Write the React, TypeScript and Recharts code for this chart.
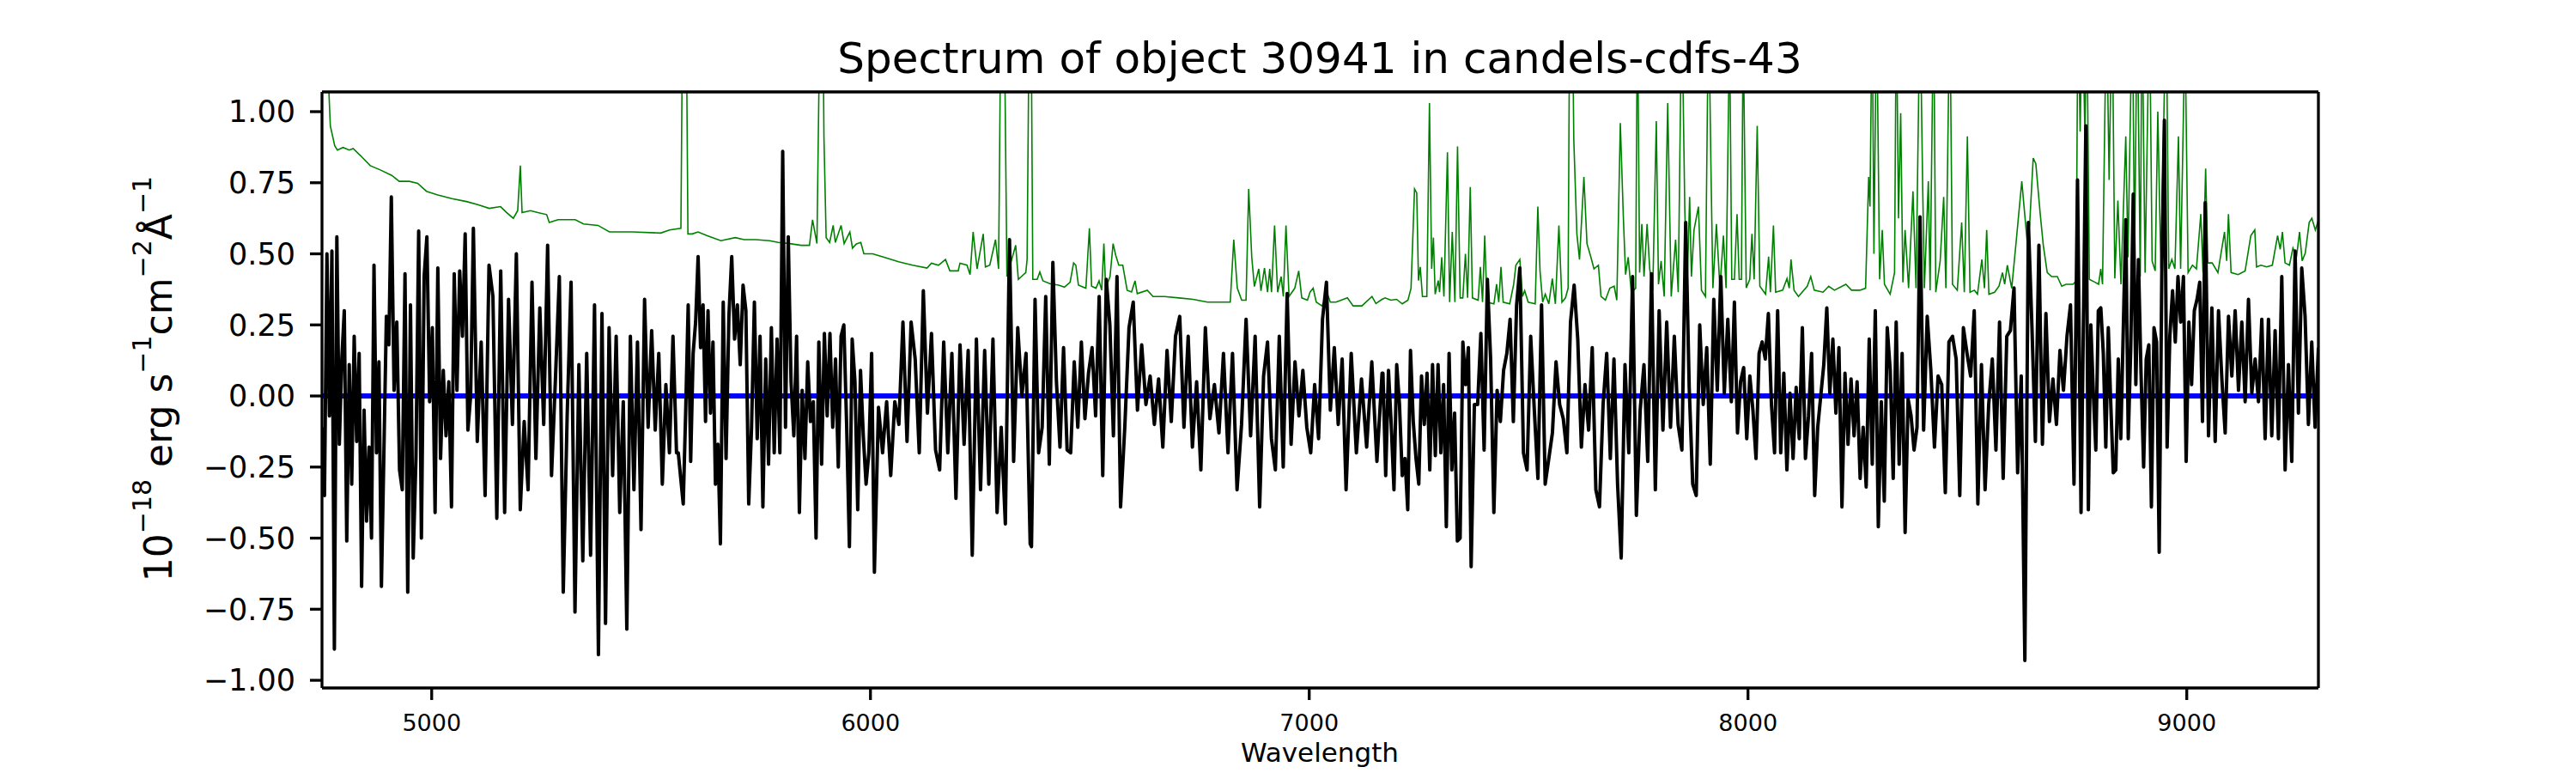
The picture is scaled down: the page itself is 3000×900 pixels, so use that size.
import { Line, LineChart, XAxis, YAxis } from "recharts";

const WAVE_RANGE: [number, number] = [4750, 9300];
const FLUX_RANGE: [number, number] = [-1.027, 1.0695];

const xTicks = [5000, 6000, 7000, 8000, 9000];
const yTicks = [-1, -0.75, -0.5, -0.25, 0, 0.25, 0.5, 0.75, 1];

const fluxA = [
  -0.11, -0.35, 0.5, -0.07, 0.51, -0.89, 0.56, -0.17, 0.13, 0.3, -0.51, 0.11, -0.31, 0.21, -0.16, 0.15,
  -0.67, -0.05, -0.44, -0.18, -0.5, 0.46, -0.2, 0.12, -0.67, -0.2, 0.28, 0.18, 0.7, 0.02, 0.26, -0.26,
  -0.33, 0.43, -0.69, 0.32, -0.57, -0.22, 0.58, -0.5, 0.42, 0.56, -0.02, 0.24, -0.41, 0.45, -0.22, 0.09,
  -0.14, 0.05, -0.39, 0.43, 0.02, 0.44, 0.21, 0.57, -0.12, 0.0, 0.59, -0.16, 0.19, -0.35, 0.46, 0.35,
  -0.43, 0.44, -0.41, 0.34, -0.1, 0.5, -0.4, -0.09, -0.33, 0.4, -0.22, 0.31, -0.1, 0.53, -0.28, 0.06,
  0.42, -0.69, -0.07, 0.4, -0.76, 0.11, -0.58, 0.15, -0.56, 0.32, -0.91, 0.29, -0.8, 0.24, -0.28, 0.21,
  -0.41, -0.02, -0.82, 0.21, -0.33, 0.19, -0.47, 0.34, -0.11, 0.23, -0.12, 0.15, -0.31, 0.04, -0.2, 0.21,
  -0.2
];
const fluxB = [
  -0.2, -0.29, -0.38, -0.05, 0.32, -0.23, 0.15, 0.26, 0.49, 0.17, 0.32, -0.09, 0.3, -0.06, 0.19, -0.31,
  -0.17, -0.52, 0.33, -0.22, 0.28, 0.49, 0.2, 0.32, 0.11, 0.39, 0.3, -0.38, -0.11, 0.33, -0.15, 0.21,
  -0.39, 0.13, -0.24, 0.24, -0.2, 0.2, -0.2, 0.86, -0.11, 0.56, 0.05, -0.14, 0.21, -0.41, 0.02, -0.22,
  0.12, -0.09, -0.02, -0.5, 0.19, -0.24, 0.22, -0.07, 0.22, -0.11, 0.13, -0.25, 0.21, 0.25, -0.1, -0.53,
  0.2, 0.05, -0.4, 0.09, -0.14, -0.31, -0.2, 0.15, -0.62, -0.04, -0.2, -0.02, -0.28, -0.02, -0.1, 0.26,
  -0.16, 0.26, 0.13, -0.2, 0.37, -0.06, 0.22, -0.19, -0.26, 0.19, -0.2, 0.15, -0.36, 0.18, -0.17, 0.16,
  -0.56, 0.2, -0.33, 0.16, -0.31, 0.2, -0.41, -0.11, -0.45, 0.55, -0.23, 0.24, 0.0, 0.15, -0.52
];
const fluxC = [
  -0.53, 0.34, -0.2, -0.11, 0.35, -0.24, 0.47, 0.05, -0.18, 0.17, -0.19, -0.2, 0.12, -0.11, 0.19, -0.08,
  0.08, 0.17, -0.07, 0.35, -0.28, 0.41, 0.25, -0.14, 0.42, -0.39, -0.11, 0.24, 0.33, -0.05, 0.18, -0.03,
  0.07, -0.1, 0.06, -0.18, 0.16, -0.09, 0.21, 0.28, -0.11, 0.21, -0.18, 0.05, -0.26, 0.24, -0.08, 0.04,
  -0.13, 0.15, -0.2, 0.15, -0.33, -0.1, 0.27, -0.14, 0.21, -0.39, 0.07, 0.19, -0.15, -0.26, 0.21, -0.25,
  0.36, -0.17, 0.12, -0.07, 0.09, -0.11, -0.2, 0.04, -0.15, 0.27, 0.4, -0.05, 0.17, -0.1, 0.13, -0.33,
  0.15, -0.2, 0.06, -0.18, 0.12, -0.23, 0.08
];
const fluxD = [
  0.08, -0.28, 0.09, -0.1, -0.33, 0.11, -0.03, -0.28, -0.22, -0.4, 0.16, -0.09, -0.22, -0.31, 0.07, -0.1,
  0.08, -0.26, 0.11, -0.21, 0.11, -0.2, 0.04, -0.46, 0.15, -0.26, -0.06, -0.51, -0.5, 0.19, 0.04, 0.17,
  -0.6, -0.03, -0.03, 0.22, -0.19, 0.41, 0.13, -0.41, 0.02, -0.09, 0.09, 0.15, 0.27, -0.09, 0.32, 0.45,
  -0.2, -0.26, 0.21, -0.05, -0.29, 0.32, -0.31, -0.22, -0.13, 0.12, -0.03, -0.08, -0.2, 0.26, 0.39, 0.2,
  -0.18, 0.04, -0.12, 0.17, -0.33, -0.39, -0.03, 0.15, -0.22, 0.13, -0.31, -0.57, 0.11, -0.2, 0.42, -0.42,
  -0.05, 0.11, -0.23, 0.43, -0.33, 0.3, -0.12, 0.26, -0.11, 0.21, -0.1, -0.19, 0.61, 0.03, -0.31, -0.35,
  0.25, -0.03, 0.17, -0.24, 0.34, 0.02, 0.42, 0.01, 0.27, -0.02
];
const fluxE = [
  0.33, -0.13, 0.05, 0.1, -0.15, 0.07, -0.05, -0.22, 0.15, 0.19, 0.13, 0.29, -0.03, -0.2, 0.3, -0.2,
  0.08, -0.26, 0.01, -0.22, 0.03, -0.15, 0.24, -0.22, -0.07, 0.15, -0.35, -0.11, 0.0, 0.11, 0.31, 0.01,
  0.2, -0.06, 0.17, -0.39, 0.08, -0.17, 0.06, -0.14, 0.05, -0.29, -0.11, -0.32, 0.2, -0.24, 0.3, -0.46,
  -0.02, -0.37, 0.24, 0.09, -0.29, 0.26, -0.24, 0.15, -0.48, -0.01, -0.07, -0.19, -0.11, 0.63, -0.12, 0.28,
  0.09, -0.18, 0.07, 0.04, -0.34, 0.19, 0.21, 0.13, -0.35, 0.24, 0.15, 0.07, 0.3, -0.38, 0.11, -0.33,
  -0.03, 0.13, -0.19, 0.26, -0.29, 0.21, 0.23, 0.38, -0.27, 0.07, -0.93, 0.61, 0.25, -0.16, 0.53, -0.17,
  0.29, -0.09, 0.06, -0.1, 0.16, 0.02, 0.21, 0.32, -0.31, 0.76, -0.41
];
const fluxF = [
  0.95, -0.4, 0.25, 0.01, -0.19, 0.3, 0.31, 0.15, -0.18, 0.24, -0.03, -0.27, -0.26, 0.13, -0.15, 0.23,
  0.62, -0.15, 0.17, 0.71, 0.04, 0.48, 0.08, -0.25, 0.13, 0.18, -0.39, 0.24, 0.19, -0.55, 0.43, 0.97,
  -0.18, 0.21, 0.37, 0.19, 0.42, 0.26, 0.42, -0.23, 0.26, 0.04, 0.3, 0.34, 0.4, -0.09, 0.68, -0.14,
  0.31, -0.16, 0.3, 0.06, -0.13, 0.28, 0.07, 0.3, 0.02, 0.26, -0.02, 0.34, 0.01, 0.13, -0.02, 0.27,
  -0.15, 0.27, -0.14, 0.23, -0.15, 0.42, -0.26, 0.11, -0.23, 0.51, -0.06, 0.45, 0.28, -0.1, 0.19, -0.11,
  0.17
];

// [sample index, wavelength] of recognisable features in each stretch
const fluxStretches: { values: number[]; anchors: [number, number][] }[] = [
  { values: fluxA, anchors: [[0, 4750], [28, 4908], [58, 5095], [90, 5380], [112, 5558]] },
  { values: fluxB, anchors: [[0, 5562], [17, 5658], [39, 5800], [72, 6009], [96, 6232], [110, 6364]] },
  { values: fluxC, anchors: [[0, 6367], [25, 6570], [44, 6753], [57, 6887], [79, 7084], [86, 7166]] },
  { values: fluxD, anchors: [[0, 7168], [32, 7369], [47, 7480], [75, 7711], [92, 7858], [105, 7962]] },
  { values: fluxE, anchors: [[0, 7969], [26, 8152], [47, 8297], [61, 8392], [90, 8631], [106, 8759]] },
  { values: fluxF, anchors: [[0, 8770], [19, 8878], [31, 8949], [46, 9042], [80, 9300]] }
];

// sky / noise spectrum: [wavelength, flux]
const skySpectrum: [number, number][] = [
  [4751, 2.6], [4760, 1.5], [4766, 1.06], [4769, 0.95], [4779, 0.88], [4785, 0.865], [4798, 0.874],
  [4812, 0.865], [4821, 0.87], [4838, 0.845], [4860, 0.81], [4883, 0.795], [4909, 0.776], [4926, 0.755],
  [4949, 0.755], [4968, 0.748], [4988, 0.72], [5014, 0.707], [5046, 0.694], [5079, 0.684], [5105, 0.673],
  [5131, 0.66], [5157, 0.666], [5170, 0.646], [5186, 0.625], [5196, 0.652], [5202, 0.81], [5206, 0.645],
  [5225, 0.652], [5242, 0.645], [5262, 0.638], [5268, 0.61], [5288, 0.62], [5327, 0.62], [5346, 0.605],
  [5379, 0.6], [5405, 0.577], [5457, 0.577], [5522, 0.573], [5542, 0.584], [5568, 0.59], [5573, 1.6],
  [5579, 1.6], [5584, 0.57], [5594, 0.57], [5607, 0.577], [5627, 0.564], [5659, 0.546], [5692, 0.557],
  [5712, 0.55], [5738, 0.55], [5770, 0.546], [5790, 0.54], [5816, 0.536], [5842, 0.53], [5861, 0.53],
  [5868, 0.62], [5878, 0.536], [5886, 1.5], [5891, 1.5], [5894, 0.91], [5899, 0.557], [5907, 0.54],
  [5915, 0.6], [5920, 0.54], [5933, 0.6], [5940, 0.536], [5953, 0.577], [5959, 0.52], [5968, 0.535],
  [5978, 0.54], [5985, 0.5], [6005, 0.5], [6031, 0.488], [6064, 0.472], [6096, 0.46], [6129, 0.45],
  [6139, 0.467], [6155, 0.46], [6171, 0.48], [6181, 0.44], [6200, 0.44], [6204, 0.467], [6220, 0.46],
  [6227, 0.427], [6234, 0.577], [6243, 0.447], [6257, 0.57], [6262, 0.454], [6272, 0.46], [6285, 0.55],
  [6292, 0.447], [6298, 1.5], [6304, 1.5], [6311, 0.42], [6331, 0.53], [6337, 0.41], [6344, 0.42],
  [6354, 0.434], [6357, 0.48], [6362, 1.4], [6366, 1.4], [6370, 0.41], [6380, 0.41], [6386, 0.436],
  [6393, 0.405], [6409, 0.395], [6429, 0.39], [6442, 0.383], [6455, 0.4], [6463, 0.468], [6468, 0.46],
  [6474, 0.39], [6491, 0.379], [6499, 0.59], [6504, 0.386], [6514, 0.379], [6521, 0.405], [6527, 0.372],
  [6532, 0.536], [6536, 0.379], [6546, 0.42], [6553, 0.536], [6559, 0.495], [6566, 0.46], [6575, 0.46],
  [6585, 0.372], [6595, 0.366], [6603, 0.405], [6608, 0.36], [6631, 0.372], [6644, 0.35], [6670, 0.35],
  [6703, 0.345], [6735, 0.34], [6768, 0.33], [6800, 0.33], [6820, 0.33], [6828, 0.55], [6836, 0.38],
  [6846, 0.337], [6856, 0.337], [6862, 0.728], [6869, 0.488], [6875, 0.385], [6885, 0.447], [6890, 0.37],
  [6898, 0.45], [6905, 0.365], [6910, 0.447], [6914, 0.365], [6921, 0.6], [6928, 0.365], [6936, 0.42],
  [6941, 0.35], [6947, 0.6], [6954, 0.35], [6967, 0.379], [6976, 0.44], [6983, 0.345], [6996, 0.337],
  [7002, 0.366], [7009, 0.379], [7016, 0.33], [7029, 0.317], [7042, 0.357], [7048, 0.33], [7061, 0.33],
  [7087, 0.345], [7100, 0.317], [7120, 0.317], [7143, 0.35], [7152, 0.325], [7166, 0.34], [7173, 0.345],
  [7186, 0.337], [7199, 0.34], [7212, 0.324], [7225, 0.337], [7232, 0.379], [7240, 0.728], [7245, 0.714],
  [7249, 0.406], [7253, 0.454], [7258, 0.35], [7268, 0.35], [7274, 1.03], [7279, 0.447], [7283, 0.557],
  [7287, 0.358], [7294, 0.406], [7297, 0.365], [7302, 0.488], [7307, 0.35], [7315, 0.857], [7320, 0.33],
  [7326, 0.577], [7332, 0.33], [7338, 0.878], [7344, 0.345], [7350, 0.345], [7356, 0.5], [7361, 0.345],
  [7367, 0.735], [7372, 0.345], [7385, 0.337], [7390, 0.454], [7395, 0.33], [7400, 0.564], [7405, 0.33],
  [7421, 0.324], [7427, 0.393], [7432, 0.33], [7437, 0.454], [7442, 0.33], [7457, 0.324], [7466, 0.393],
  [7471, 0.46], [7480, 0.48], [7486, 0.35], [7491, 0.37], [7499, 0.33], [7515, 0.324], [7521, 0.666],
  [7526, 0.44], [7532, 0.33], [7538, 0.358], [7546, 0.324], [7554, 0.413], [7561, 0.324], [7569, 0.6],
  [7576, 0.33], [7584, 0.345], [7590, 0.379], [7594, 1.5], [7599, 1.5], [7603, 0.9], [7610, 0.57],
  [7616, 0.48], [7626, 0.77], [7633, 0.536], [7642, 0.488], [7649, 0.447], [7659, 0.46], [7665, 0.35],
  [7675, 0.337], [7685, 0.379], [7695, 0.386], [7701, 0.337], [7709, 0.96], [7716, 0.625], [7721, 0.427],
  [7727, 0.488], [7734, 0.365], [7744, 0.379], [7748, 1.4], [7753, 0.434], [7758, 0.605], [7763, 0.42],
  [7770, 0.605], [7776, 0.447], [7783, 0.372], [7791, 0.967], [7796, 0.393], [7802, 0.475], [7809, 0.35],
  [7817, 1.03], [7825, 0.35], [7835, 0.55], [7841, 0.365], [7849, 1.4], [7856, 0.653], [7861, 0.365],
  [7867, 0.7], [7871, 0.42], [7877, 0.584], [7887, 0.666], [7894, 0.372], [7903, 0.35], [7910, 1.4],
  [7916, 0.76], [7920, 0.379], [7928, 0.605], [7936, 0.379], [7944, 0.564], [7950, 0.379], [7958, 1.3],
  [7963, 0.41], [7969, 0.41], [7975, 0.64], [7980, 0.41], [7985, 0.41], [7989, 1.3], [7996, 0.38],
  [8004, 0.41], [8009, 0.57], [8014, 0.41], [8021, 0.95], [8027, 0.386], [8040, 0.358], [8047, 0.49],
  [8051, 0.365], [8058, 0.6], [8063, 0.365], [8079, 0.372], [8089, 0.413], [8094, 0.379], [8098, 0.48],
  [8105, 0.372], [8115, 0.35], [8135, 0.386], [8143, 0.42], [8151, 0.372], [8171, 0.365], [8184, 0.386],
  [8197, 0.372], [8223, 0.393], [8236, 0.372], [8255, 0.372], [8268, 0.379], [8275, 0.77], [8278, 0.666],
  [8283, 1.4], [8287, 0.5], [8293, 1.4], [8300, 0.41], [8306, 0.584], [8311, 0.393], [8324, 0.358],
  [8334, 0.434], [8338, 1.4], [8343, 0.625], [8348, 0.995], [8353, 0.4], [8358, 0.584], [8366, 0.379],
  [8376, 0.72], [8383, 0.379], [8392, 1.4], [8398, 0.748], [8402, 0.379], [8411, 0.755], [8415, 0.372],
  [8423, 1.4], [8428, 0.365], [8438, 0.475], [8446, 0.7], [8451, 0.379], [8460, 1.4], [8466, 0.393],
  [8477, 0.372], [8487, 0.61], [8493, 0.365], [8500, 0.913], [8506, 0.365], [8516, 0.372], [8523, 0.358],
  [8533, 0.48], [8539, 0.379], [8544, 0.584], [8549, 0.358], [8562, 0.365], [8572, 0.386], [8580, 0.434],
  [8585, 0.393], [8591, 0.46], [8601, 0.379], [8611, 0.54], [8624, 0.755], [8637, 0.53], [8642, 0.605],
  [8650, 0.837], [8656, 0.817], [8666, 0.64], [8673, 0.53], [8682, 0.434], [8692, 0.42], [8705, 0.42],
  [8715, 0.386], [8725, 0.393], [8741, 0.393], [8748, 0.406], [8752, 1.4], [8757, 0.93], [8762, 1.4],
  [8768, 0.91], [8772, 1.4], [8778, 0.41], [8791, 0.4], [8799, 0.393], [8804, 0.447], [8808, 0.393],
  [8817, 1.4], [8823, 0.76], [8830, 1.4], [8836, 0.413], [8843, 0.687], [8850, 0.393], [8861, 0.913],
  [8866, 0.488], [8876, 1.4], [8881, 0.488], [8887, 1.4], [8894, 0.42], [8898, 1.4], [8905, 0.434],
  [8915, 1.4], [8921, 0.475], [8928, 0.44], [8934, 1.0], [8941, 0.447], [8953, 1.4], [8959, 0.447],
  [8966, 0.48], [8973, 0.447], [8981, 0.913], [8986, 0.447], [8996, 1.3], [9003, 0.434], [9013, 0.46],
  [9022, 0.447], [9032, 0.64], [9037, 0.434], [9043, 0.8], [9048, 0.468], [9058, 0.468], [9071, 0.434],
  [9086, 0.577], [9091, 0.475], [9095, 0.64], [9101, 0.434], [9117, 0.427], [9133, 0.44], [9146, 0.564],
  [9155, 0.584], [9159, 0.454], [9169, 0.46], [9182, 0.454], [9195, 0.46], [9207, 0.564], [9213, 0.516],
  [9218, 0.577], [9224, 0.468], [9234, 0.46], [9242, 0.52], [9250, 0.488], [9257, 0.577], [9263, 0.475],
  [9270, 0.502], [9279, 0.61], [9285, 0.625], [9293, 0.584], [9300, 0.618]
];

// fitted model: flat at zero over the whole range
const modelSpectrum: [number, number][] = [
  [4750, 0],
  [9300, 0]
];

const FONT = "'DejaVu Sans', sans-serif";

// wavelength of sample i, placed between the nearest feature anchors
function waveAt(anchors: [number, number][], i: number) {
  for (let k = 0; k < anchors.length - 1; k++) {
    const [i0, w0] = anchors[k];
    const [i1, w1] = anchors[k + 1];
    if (i <= i1) {
      return w0 + ((i - i0) * (w1 - w0)) / (i1 - i0);
    }
  }
  return anchors[anchors.length - 1][1];
}

const fluxData = fluxStretches.flatMap(({ values, anchors }) =>
  values.map((flux, i) => ({ wave: waveAt(anchors, i), flux }))
);
const skyData = skySpectrum.map(([wave, flux]) => ({ wave, flux }));
const modelData = modelSpectrum.map(([wave, flux]) => ({ wave, flux }));

const formatFlux = (v: number) => v.toFixed(2).replace("-", "\u2212");

const axisLine = { stroke: "#000", strokeWidth: 3.3 };

export default function App() {
  return (
    <div style={{ position: "absolute", left: 0, top: 0, width: 3000, height: 900, background: "#fff" }}>
      <LineChart width={3000} height={900} margin={{ top: 106, right: 299, bottom: 98, left: 374 }}>
        <Line
          data={skyData}
          dataKey="flux"
          type="linear"
          stroke="#008000"
          strokeWidth={1.6}
          dot={false}
          activeDot={false}
          isAnimationActive={false}
        />
        <Line
          data={modelData}
          dataKey="flux"
          type="linear"
          stroke="#0000ff"
          strokeWidth={6}
          dot={false}
          activeDot={false}
          isAnimationActive={false}
        />
        <Line
          data={fluxData}
          dataKey="flux"
          type="linear"
          stroke="#000"
          strokeWidth={4}
          strokeLinejoin="round"
          dot={false}
          activeDot={false}
          isAnimationActive={false}
        />
        <XAxis
          dataKey="wave"
          type="number"
          domain={WAVE_RANGE}
          ticks={xTicks}
          allowDataOverflow
          height={1}
          tickSize={14}
          tickMargin={17}
          axisLine={axisLine}
          tickLine={axisLine}
          tick={{ fill: "#000", fontSize: 27, fontFamily: FONT }}
        />
        <XAxis
          xAxisId="top"
          orientation="top"
          dataKey="wave"
          type="number"
          domain={WAVE_RANGE}
          height={1}
          tick={false}
          tickLine={false}
          axisLine={axisLine}
        />
        <YAxis
          type="number"
          domain={FLUX_RANGE}
          ticks={yTicks}
          allowDataOverflow
          width={1}
          tickSize={14}
          tickMargin={17}
          tickFormatter={formatFlux}
          axisLine={axisLine}
          tickLine={axisLine}
          tick={{ fill: "#000", fontSize: 35, fontFamily: FONT }}
        />
        <YAxis
          yAxisId="right"
          orientation="right"
          type="number"
          domain={FLUX_RANGE}
          width={1}
          tick={false}
          tickLine={false}
          axisLine={axisLine}
        />
      </LineChart>
      <svg
        width={3000}
        height={900}
        style={{ position: "absolute", left: 0, top: 0, pointerEvents: "none" }}
        fontFamily={FONT}
      >
        <text x={1537} y={85} textAnchor="middle" fontSize={50} fill="#000">
          Spectrum of object 30941 in candels-cdfs-43
        </text>
        <text x={1537} y={887} textAnchor="middle" fontSize={31} fill="#000">
          Wavelength
        </text>
        <text x={200} y={441} transform="rotate(-90 200 441)" textAnchor="middle" fontSize={44} fill="#000">
          10
          <tspan dy={-24} fontSize={30}>{"\u221218"}</tspan>
          <tspan dy={24}>{" erg s"}</tspan>
          <tspan dy={-24} fontSize={30}>{"\u22121"}</tspan>
          <tspan dy={24}>cm</tspan>
          <tspan dy={-24} fontSize={30}>{"\u22122"}</tspan>
          <tspan dy={24}>{"\u00c5"}</tspan>
          <tspan dy={-24} fontSize={30}>{"\u22121"}</tspan>
        </text>
      </svg>
    </div>
  );
}
